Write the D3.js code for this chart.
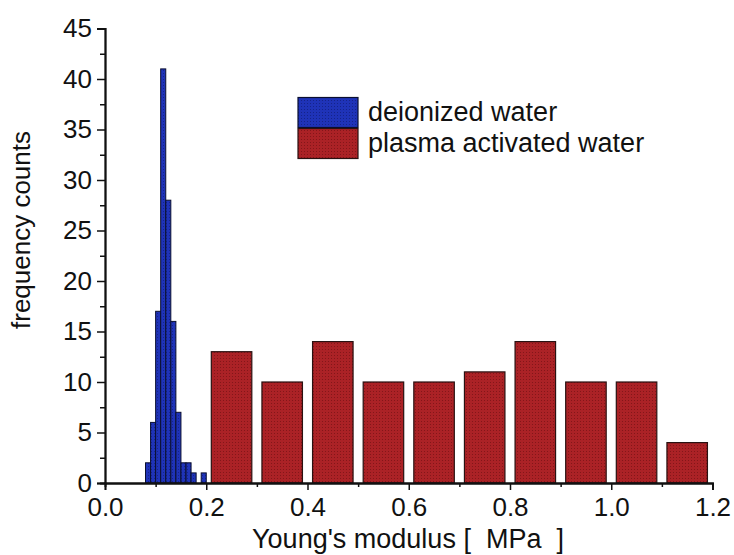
<!DOCTYPE html>
<html>
<head>
<meta charset="utf-8">
<script src="https://cdn.jsdelivr.net/npm/d3@7"></script>
<style>
  html, body { margin: 0; padding: 0; background: #fff; }
  svg text { font-family: "Liberation Sans", Arial, sans-serif; fill: #111; }
</style>
</head>
<body>
<svg id="chart" width="734" height="555"></svg>
<script>
// ---- data ----
const blueBinStarts = [0.08, 0.09, 0.10, 0.11, 0.12, 0.13, 0.14, 0.15, 0.16, 0.17, 0.18, 0.19];
const blueCounts    = [2, 6, 17, 41, 28, 16, 7, 2, 2, 1, 0, 1];
const blueBinWidth  = 0.01;

const redCenters = [0.25, 0.35, 0.45, 0.55, 0.65, 0.75, 0.85, 0.95, 1.05, 1.15];
const redCounts  = [13, 10, 14, 10, 10, 11, 14, 10, 10, 4];
const redBarWidth = 0.08;

const xTickValues = [0.0, 0.2, 0.4, 0.6, 0.8, 1.0, 1.2];
const xMinorTicks = [0.1, 0.3, 0.5, 0.7, 0.9, 1.1];
const yTickValues = [0, 5, 10, 15, 20, 25, 30, 35, 40, 45];
const yMinorTicks = [2.5, 7.5, 12.5, 17.5, 22.5, 27.5, 32.5, 37.5, 42.5];

const seriesNames = ["deionized water", "plasma activated water"];
const xTitle = "Young's modulus [  MPa  ]";
const yTitle = "frequency counts";

(function () {
// ---- layout ----
const mLeft = 105, mRight = 712.5, mTop = 28.5, mBottom = 483;
const svg = d3.select("#chart");

const x = d3.scaleLinear().domain([0, 1.2]).range([mLeft, mRight]);
const y = d3.scaleLinear().domain([0, 45]).range([mBottom, mTop]);

// patterns (dotted texture)
const defs = svg.append("defs");
function dotPattern(id, base, dot) {
  const p = defs.append("pattern").attr("id", id).attr("patternUnits", "userSpaceOnUse")
    .attr("width", 3).attr("height", 3);
  p.append("rect").attr("width", 3).attr("height", 3).attr("fill", base);
  p.append("rect").attr("x", 1).attr("y", 1).attr("width", 1).attr("height", 1).attr("fill", dot);
}
dotPattern("redDots", "#ab2226", "#841619");
dotPattern("blueDots", "#1f33b8", "#15238a");

// red bars
svg.append("g").selectAll("rect").data(redCenters).join("rect")
  .attr("x", (d) => x(d - redBarWidth / 2))
  .attr("width", (d) => x(d + redBarWidth / 2) - x(d - redBarWidth / 2))
  .attr("y", (d, i) => y(redCounts[i]))
  .attr("height", (d, i) => y(0) - y(redCounts[i]))
  .attr("fill", "url(#redDots)")
  .attr("stroke", "#2a1212").attr("stroke-width", 1.2);

// blue bars
const blueData = blueBinStarts.map((s, i) => ({ s, c: blueCounts[i] })).filter(d => d.c > 0);
svg.append("g").selectAll("rect").data(blueData).join("rect")
  .attr("x", (d) => x(d.s))
  .attr("width", (d) => x(d.s + blueBinWidth) - x(d.s))
  .attr("y", (d) => y(d.c))
  .attr("height", (d) => y(0) - y(d.c))
  .attr("fill", "url(#blueDots)")
  .attr("stroke", "#0a0f30").attr("stroke-width", 1);

// axes
const xAxis = svg.append("g").attr("transform", `translate(0,${mBottom})`)
  .call(d3.axisBottom(x).tickValues(xTickValues).tickFormat(d3.format(".1f")).tickSizeOuter(0).tickSize(7).tickPadding(8));
const xMinor = svg.append("g").attr("transform", `translate(0,${mBottom})`)
  .call(d3.axisBottom(x).tickValues(xMinorTicks).tickFormat("").tickSizeOuter(0).tickSize(4));
const yAxis = svg.append("g").attr("transform", `translate(${mLeft},0)`)
  .call(d3.axisLeft(y).tickValues(yTickValues).tickSizeOuter(0).tickSize(8).tickPadding(5));
const yMinor = svg.append("g").attr("transform", `translate(${mLeft},0)`)
  .call(d3.axisLeft(y).tickValues(yMinorTicks).tickFormat("").tickSizeOuter(0).tickSize(5));

[xAxis, xMinor, yAxis, yMinor].forEach(g => {
  g.selectAll("path.domain").attr("stroke", "#111").attr("stroke-width", 1.8);
  g.selectAll(".tick line").attr("stroke", "#111").attr("stroke-width", 1.5);
  g.selectAll(".tick text").attr("font-size", 26).attr("fill", "#111")
    .attr("font-family", '"Liberation Sans", Arial, sans-serif');
});
xAxis.selectAll(".tick text").attr("dy", "0.71em");

// axis titles
svg.append("text").attr("x", 408).attr("y", 548).attr("text-anchor", "middle")
  .attr("font-size", 27).style("white-space", "pre").text(xTitle);
svg.append("text").attr("transform", "translate(30,230) rotate(-90)").attr("text-anchor", "middle")
  .attr("font-size", 26).text(yTitle);

// legend
const legendFills = ["url(#blueDots)", "url(#redDots)"];
const legendStrokes = ["#0a0f30", "#2a1212"];
const lg = svg.append("g");
seriesNames.forEach((name, i) => {
  lg.append("rect").attr("x", 298).attr("y", 97.5 + i * 31).attr("width", 60).attr("height", 30)
    .attr("fill", legendFills[i]).attr("stroke", legendStrokes[i]).attr("stroke-width", 1.2);
  lg.append("text").attr("x", 368).attr("y", 121 + i * 31).attr("font-size", 27).text(name);
});
})();
</script>
</body>
</html>
